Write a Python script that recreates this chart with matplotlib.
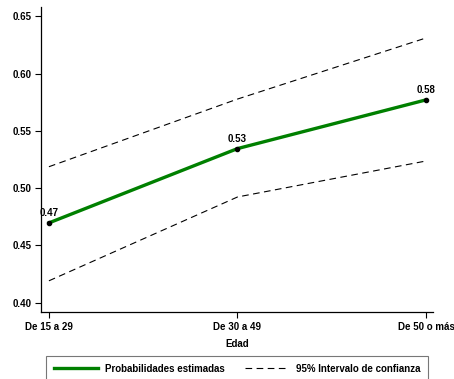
import matplotlib
matplotlib.use("Agg")
import matplotlib.pyplot as plt

plt.rcParams['font.family'] = ['Liberation Sans', 'DejaVu Sans']
plt.rcParams['font.weight'] = 'bold'

categories = ["De 15 a 29", "De 30 a 49", "De 50 o más"]
prob = [0.4697, 0.5345, 0.5770]
ci_upper = [0.5187, 0.5777, 0.6310]
ci_lower = [0.4192, 0.4923, 0.5237]
prob_labels = ["0.47", "0.53", "0.58"]
yticks = [0.40, 0.45, 0.50, 0.55, 0.60, 0.65]

FS = 7

fig = plt.figure(figsize=(4.54, 3.79), dpi=100)
ax = fig.add_axes([41/454, 1 - 312/379, (433-41)/454, (312-7)/379])

x = list(range(len(categories)))
ax.plot(x, ci_upper, color='black', lw=0.8, ls=(0, (6, 4)), label='95% Intervalo de confianza')
ax.plot(x, ci_lower, color='black', lw=0.8, ls=(0, (6, 4)))
ax.plot(x, prob, color='#008000', lw=2.4, label='Probabilidades estimadas', zorder=3)
ax.scatter(x, prob, color='black', s=9, zorder=4)
for xi, yi, lab in zip(x, prob, prob_labels):
    ax.text(xi, yi + 0.004, lab, ha='center', va='bottom', fontsize=FS, fontweight='bold')

ax.set_xlim(-0.042, 2.037)
ax.set_ylim(0.392, 0.658)
ax.set_xticks(x)
ax.set_xticklabels(categories)
ax.set_yticks(yticks)
ax.set_yticklabels([f"{v:.2f}" for v in yticks])
ax.tick_params(axis='both', labelsize=FS, length=4, width=0.8, pad=3)
for s in ['top', 'right']:
    ax.spines[s].set_visible(False)
for s in ['left', 'bottom']:
    ax.spines[s].set_linewidth(0.9)
ax.set_xlabel("Edad", fontsize=FS, fontweight='bold', labelpad=5)

handles, labels = ax.get_legend_handles_labels()
order = [1, 0]
leg = fig.legend([handles[i] for i in order], [labels[i] for i in order],
                 ncol=2, loc='upper left', bbox_to_anchor=(46/454, 1 - 356/379),
                 borderaxespad=0, fontsize=FS, frameon=True, fancybox=False,
                 handlelength=4.5, columnspacing=2.1, borderpad=0.8, handletextpad=0.75)
leg.get_frame().set_edgecolor('#555555')
leg.get_frame().set_linewidth(0.8)

fig.savefig("out.png", dpi=100)
